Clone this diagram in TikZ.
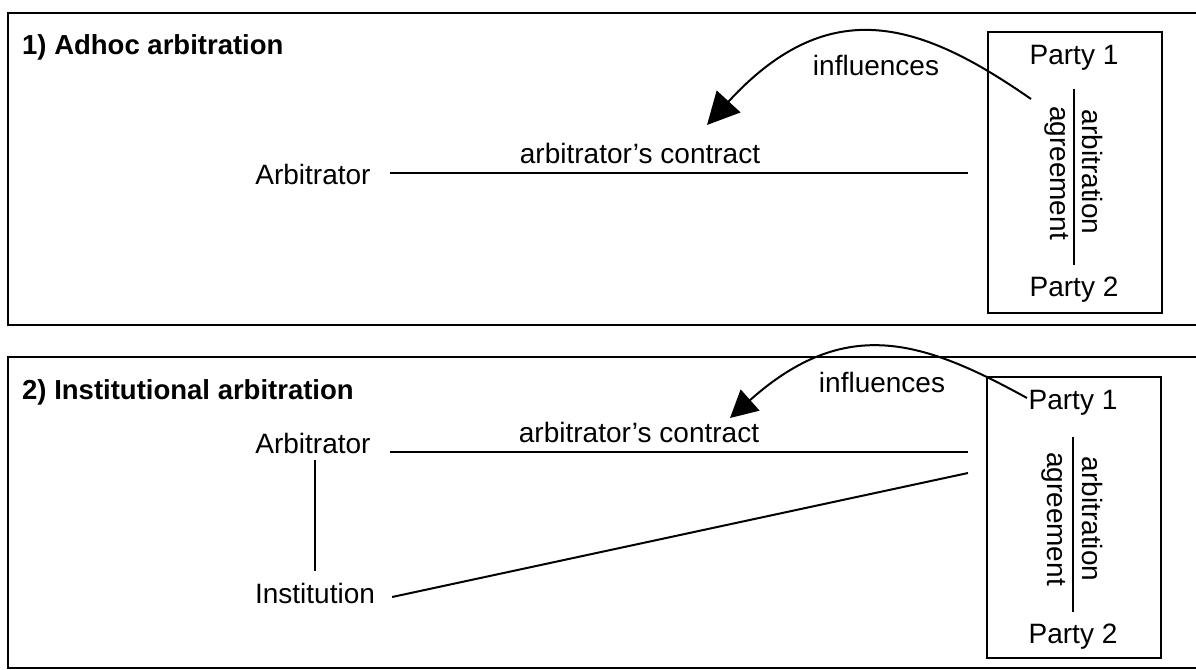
\documentclass[tikz,border=0pt]{standalone}
\usepackage{fontspec}
\setmainfont{Liberation Sans}
\usetikzlibrary{arrows.meta}
\begin{document}
\begin{tikzpicture}[x=1pt,y=-1pt,
  lbl/.style={font=\fontsize{28}{32}\selectfont, inner sep=0pt},
  ttl/.style={font=\fontsize{27.5}{32}\selectfont\bfseries, anchor=west, inner sep=0pt},
  frame/.style={line width=2.7pt},
  pbox/.style={draw, line width=2.5pt, minimum width=174pt, minimum height=281pt, inner sep=0pt},
  conn/.style={line width=2pt},
  infl/.style={line width=2pt, -{Triangle[length=32pt,width=32pt]}}]
\useasboundingbox (0,0) rectangle (1196,669);
% ---------- panel 1 ----------
\draw[frame] (1200,13) -- (8,13) -- (8,325) -- (1200,325);
\node[ttl] (t1) at (22,47) {1) Adhoc arbitration};
\node[pbox] (pb1) at (1075,172.5) {};
\node[lbl] (p11) at (1074,58) {Party 1};
\node[lbl] (p12) at (1074,290) {Party 2};
\draw[conn, shorten <=18pt, shorten >=12pt] (p11) -- (p12);
\node[lbl, rotate=-90] (arbt1) at (1092,172) {arbitration};
\node[lbl, rotate=-90] (agr1) at (1057,173) {agreement};
\node[lbl] (arb1) at (313,174) {Arbitrator};
\coordinate (c1e) at (968,173);
\draw[conn] ([shift={(19pt,1pt)}]arb1.east) -- (c1e);
\node[lbl] (con1) at (640,153) {arbitrator's contract};
\node[lbl] (inf1) at (876,65) {influences};
\coordinate (s1) at (1031,99);
\coordinate (e1) at (707,125);
\draw[infl] (s1) .. controls (923,24) and (831,-10) .. (e1);
% ---------- panel 2 ----------
\draw[frame] (1200,357) -- (8,357) -- (8,668) -- (1200,668);
\node[ttl] (t2) at (22,392) {2) Institutional arbitration};
\node[pbox] (pb2) at (1074,517.5) {};
\node[lbl] (p21) at (1073,403) {Party 1};
\node[lbl] (p22) at (1073,637) {Party 2};
\draw[conn, shorten <=21pt, shorten >=12pt] (p21) -- (p22);
\node[lbl, rotate=-90] (arbt2) at (1092,519) {arbitration};
\node[lbl, rotate=-90] (agr2) at (1054,519) {agreement};
\node[lbl] (arb2) at (313,443) {Arbitrator};
\node[lbl] (inst) at (315,593) {Institution};
\coordinate (c2e) at (968,452);
\coordinate (c3e) at (968,473);
\draw[conn] ([shift={(19pt,-9pt)}]arb2.east) -- (c2e);
\draw[conn] ([shift={(17pt,-4pt)}]inst.east) -- (c3e);
\draw[conn, shorten <=7pt, shorten >=12pt] (inst.north |- arb2.south) -- (inst.north);
\node[lbl] (con2) at (639,432) {arbitrator's contract};
\node[lbl] (inf2) at (882,382) {influences};
\coordinate (s2) at (1027,398);
\coordinate (e2) at (730,418);
\draw[infl, -{Triangle[length=27pt,width=28pt]}] (s2) .. controls (925,342) and (847,313.5) .. (e2);
\end{tikzpicture}
\end{document}
